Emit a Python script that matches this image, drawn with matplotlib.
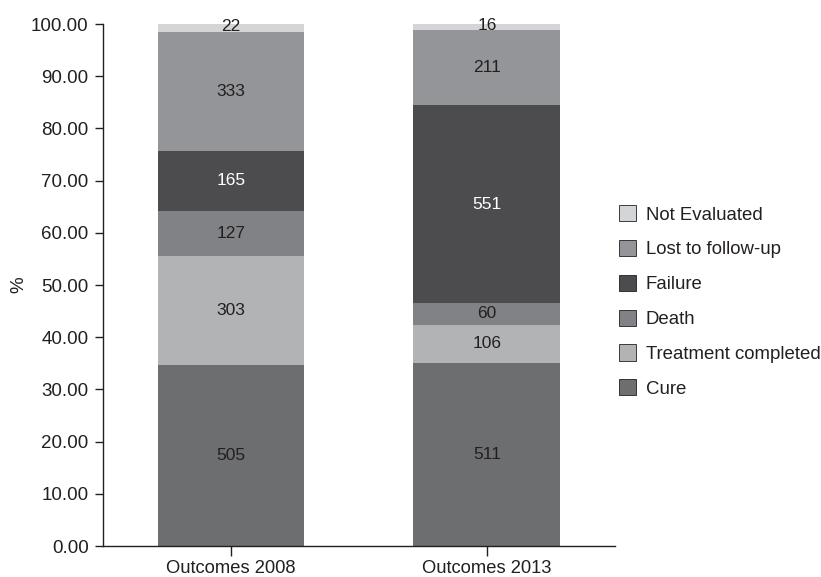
import matplotlib
matplotlib.use("Agg")
import matplotlib.pyplot as plt
import numpy as np
from matplotlib.patches import Patch

plt.rcParams['font.family'] = ['Liberation Sans', 'DejaVu Sans']

categories = ["Outcomes 2008", "Outcomes 2013"]
series_names = ["Cure", "Treatment completed", "Death", "Failure",
                "Lost to follow-up", "Not Evaluated"]
cure = [505, 511]
treatment_completed = [303, 106]
death = [127, 60]
failure = [165, 551]
lost = [333, 211]
not_evaluated = [22, 16]
counts = [cure, treatment_completed, death, failure, lost, not_evaluated]
colors = ["#6d6e70", "#b2b3b5", "#818285", "#4c4c4e", "#949598", "#d4d5d7"]
text_colors = ["#231f20", "#231f20", "#231f20", "#ffffff", "#231f20", "#231f20"]
yticks = [0, 10, 20, 30, 40, 50, 60, 70, 80, 90, 100]

fig = plt.figure(figsize=(8.21, 5.77), dpi=100)
ax = fig.add_axes([0.1255, 0.0537, 0.6235, 0.9047])

arr = np.array(counts, dtype=float)
totals = arr.sum(axis=0)
pct = arr / totals * 100
x = np.arange(len(categories))
bottom = np.zeros(len(categories))
for i, name in enumerate(series_names):
    bars = ax.bar(x, pct[i], bottom=bottom, width=0.574, color=colors[i],
                  label=name, linewidth=0)
    for j, b in enumerate(bars):
        cy = bottom[j] + pct[i][j] / 2
        if name == "Not Evaluated":
            cy = bottom[j] + pct[i][j] / 2 + 0.2
        ax.text(x[j], cy, str(counts[i][j]), ha='center', va='center',
                fontsize=12.5, color=text_colors[i])
    bottom += pct[i]

ax.set_xlim(-0.5, 1.5)
ax.set_ylim(0, 100)
ax.set_yticks(yticks)
ax.set_yticklabels([f"{v:.2f}" for v in yticks], fontsize=13.5, color="#231f20")
ax.set_xticks(x)
ax.set_xticklabels(categories, fontsize=13.2, color="#231f20")
ax.spines['top'].set_visible(False)
ax.spines['right'].set_visible(False)
for s in ['left', 'bottom']:
    ax.spines[s].set_color("#231f20")
    ax.spines[s].set_linewidth(1.0)
ax.tick_params(axis='y', length=5.8, width=1, color="#231f20", pad=4.5)
ax.tick_params(axis='x', length=7.2, width=1, color="#231f20", pad=3)
ax.set_ylabel("%", fontsize=13.5, color="#231f20", labelpad=2.5)

handles = [Patch(facecolor=colors[i], edgecolor="#231f20", linewidth=0.6,
                 label=series_names[i]) for i in range(len(series_names))][::-1]
fig.legend(handles=handles, loc='center left', bbox_to_anchor=(0.733, 0.4775),
           frameon=False, fontsize=13.4, handlelength=0.95, handleheight=0.95,
           handletextpad=0.5, labelspacing=0.88, labelcolor="#231f20")

fig.savefig("out.png", dpi=100)
